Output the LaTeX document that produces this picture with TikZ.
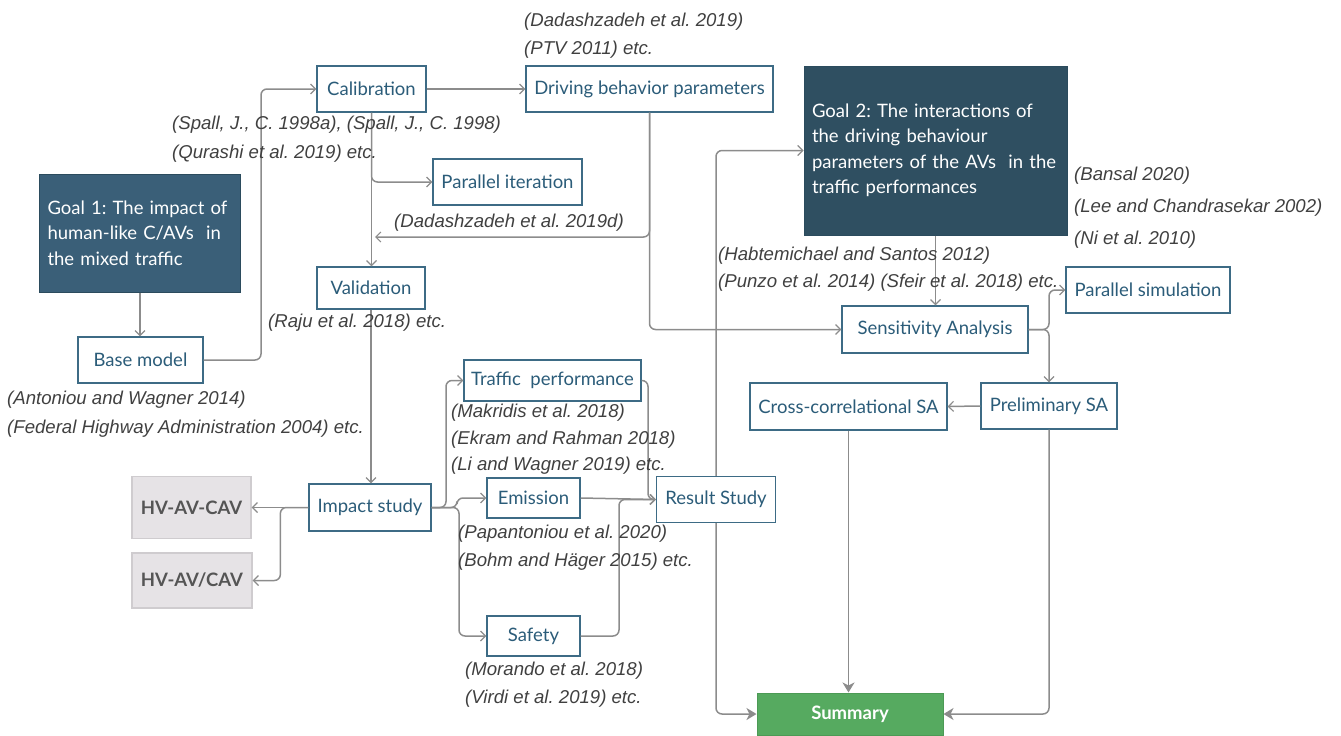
\documentclass[tikz,border=0pt]{standalone}
\usepackage{fontspec}
\setmainfont{Lato}
\newfontfamily\citefont{Liberation Sans}
\usetikzlibrary{arrows.meta}
\frenchspacing
\definecolor{boxline}{HTML}{3D6B85}
\definecolor{boxtext}{HTML}{2B5C79}
\definecolor{goalone}{HTML}{3A5F78}
\definecolor{goaltwo}{HTML}{2F4F61}
\definecolor{sumgreen}{HTML}{56AA60}
\definecolor{sumline}{HTML}{4C9A55}
\definecolor{hvfill}{HTML}{E6E3E6}
\definecolor{hvline}{HTML}{CFCCCF}
\definecolor{hvtext}{HTML}{555555}
\definecolor{conn}{HTML}{8C8C8C}
\definecolor{cite}{HTML}{404040}
\tikzset{
  stepbox/.style={draw=boxline, line width=1.3pt, fill=white, text=boxtext, inner sep=0pt,
    font=\fontsize{18.5}{22}\selectfont},
  goalbox/.style={draw=boxline!70!black, line width=1pt, text=white, align=left, inner xsep=8pt,
    font=\fontsize{18.5}{25.5}\selectfont},
  hvbox/.style={draw=hvline, line width=1.3pt, fill=hvfill, text=hvtext, inner sep=0pt,
    font=\fontsize{18.5}{22}\selectfont\bfseries},
  sumbox/.style={draw=sumline, line width=1pt, fill=sumgreen, text=white, inner sep=0pt,
    font=\fontsize{18.5}{22}\selectfont\bfseries},
  citelbl/.style={anchor=west, inner sep=0pt, text=cite, font=\citefont\itshape\fontsize{18.6}{22}\selectfont},
  arr/.style={draw=conn, line width=1.5pt, rounded corners=6pt, -{Straight Barb[length=5pt,width=10pt,line width=1.2pt]}},
  sarr/.style={draw=conn, line width=1.5pt, rounded corners=6pt, -{Stealth[length=10pt,width=12pt,inset=3pt]}},
}
\begin{document}
\begin{tikzpicture}[x=1pt,y=-1pt]
\useasboundingbox (0,0) rectangle (1341,736);
% boxes
\node[goalbox, fill=goalone, text width=185pt, minimum height=118pt] (g1) at (140,233)
  {Goal 1: The impact of\\human-like C/AVs\ \ in\\the mixed traffic};
\node[stepbox, minimum width=125pt, minimum height=46pt] (base) at (140.5,360) {Base model};
\node[stepbox, minimum width=109pt, minimum height=46pt] (cal) at (371.5,89) {Calibration};
\node[stepbox, minimum width=247pt, minimum height=46pt] (dbp) at (649.5,89) {Driving behavior parameters};
\node[stepbox, minimum width=149pt, minimum height=46pt] (pit) at (507.5,182) {Parallel iteration};
\node[stepbox, minimum width=108pt, minimum height=42pt] (val) at (371,288) {Validation};
\node[goalbox, fill=goaltwo, text width=247pt, minimum height=169pt] (g2) at (935.5,150.5)
  {Goal 2: The interactions of\\the driving behaviour\\parameters of the AVs\ \ in the\\traffic performances};
\node[stepbox, minimum width=186pt, minimum height=47pt] (sa) at (935,329.5) {Sensitivity Analysis};
\node[stepbox, minimum width=164pt, minimum height=46pt] (ps) at (1148,290) {Parallel simulation};
\node[stepbox, minimum width=136pt, minimum height=46pt] (pre) at (1049,406) {Preliminary SA};
\node[stepbox, minimum width=197pt, minimum height=47pt] (cc) at (848.5,406.5) {Cross-correlational SA};
\node[stepbox, minimum width=177pt, minimum height=41pt] (tp) at (552.5,380.5) {Traffic\ \ performance};
\node[stepbox, minimum width=93pt, minimum height=40pt] (em) at (533.5,498) {Emission};
\node[stepbox, minimum width=93pt, minimum height=40pt] (sf) at (533.5,636) {Safety};
\node[stepbox, minimum width=119pt, minimum height=46pt] (rs) at (716,499.5) {Result Study};
\node[stepbox, minimum width=122pt, minimum height=47pt] (imp) at (370,507.5) {Impact study};
\node[hvbox, minimum width=119pt, minimum height=62pt] (hv1) at (191.5,507.5) {HV-AV-CAV};
\node[hvbox, minimum width=120pt, minimum height=55pt] (hv2) at (192,580.5) {HV-AV/CAV};
\node[sumbox, minimum width=186pt, minimum height=42pt] (sum) at (850,714) {Summary};
% bus coordinates
\coordinate (xa) at (261,0);
\coordinate (c1) at (375,237);
\coordinate (xb) at (446,0);
\coordinate (xc) at (457,0);
\coordinate (xd) at (459,0);
\coordinate (xe) at (648,0);
\coordinate (xf) at (619,0);
% connectors
\draw[arr] (g1.south) -- (g1.south |- base.north);
\draw[arr] (base.east) -| (xa |- cal.west) -- (cal.west);
\draw[arr] (cal.east) -- (dbp.west);
\draw[arr] (cal.south) -- (cal.south |- val.north);
\draw[arr] (cal.south) |- (pit.west);
\draw[arr] (dbp.south) |- (c1);
\draw[arr] (dbp.south) |- (sa.west);
\draw[arr] (val.south) -- (val.south |- imp.north);
\draw[arr] (imp.west) -- (hv1.east);
\draw[arr] (imp.west) -- ++(-28,0) |- (hv2.east);
\draw[arr] (imp.east) -| (xb |- tp.west) -- (tp.west);
\draw[arr] (imp.east) -| (xc |- em.west) -- (em.west);
\draw[arr] (imp.east) -| (xd |- sf.west) -- (sf.west);
\draw[arr] (tp.east) -| (xe |- rs.west) -- (rs.west);
\draw[arr] (em.east) -- (rs.west);
\draw[arr] (sf.east) -| (xf |- rs.west) -- (rs.west);
\draw[arr] (rs.north) |- (g2.west);
\draw[sarr] (rs.south) |- (sum.west);
\draw[arr] (g2.south) -- (g2.south |- sa.north);
\draw[arr] (sa.east) -| (pre.north |- ps.west) -- (ps.west);
\draw[arr] (sa.east) -| (pre.north);
\draw[arr] (pre.west) -- (cc.east);
\draw[sarr] (cc.south) -- (cc.south |- sum.north);
\draw[sarr] (pre.south) |- (sum.east);
% citation labels
\node[citelbl] (l1) at (524,22) {(Dadashzadeh et al. 2019)};
\node[citelbl] (l2) at (524,50) {(PTV 2011) etc.};
\node[citelbl] (l3) at (172,125) {(Spall, J., C. 1998a), (Spall, J., C. 1998)};
\node[citelbl] (l4) at (172,154) {(Qurashi et al. 2019) etc.};
\node[citelbl] (l5) at (394,223) {(Dadashzadeh et al. 2019d)};
\node[citelbl] (l6) at (268,323) {(Raju et al. 2018) etc.};
\node[citelbl] (l7) at (7,400) {(Antoniou and Wagner 2014)};
\node[citelbl] (l8) at (7,429) {(Federal Highway Administration 2004) etc.};
\node[citelbl] (l9) at (451,413) {(Makridis et al. 2018)};
\node[citelbl] (l10) at (451,440) {(Ekram and Rahman 2018)};
\node[citelbl] (l11) at (451,466) {(Li and Wagner 2019) etc.};
\node[citelbl] (l12) at (458,534) {(Papantoniou et al. 2020)};
\node[citelbl] (l13) at (458,562) {(Bohm and Häger 2015) etc.};
\node[citelbl] (l14) at (465,671) {(Morando et al. 2018)};
\node[citelbl] (l15) at (465,699) {(Virdi et al. 2019) etc.};
\node[citelbl] (l16) at (718,256) {(Habtemichael and Santos 2012)};
\node[citelbl] (l17) at (718,283) {(Punzo et al. 2014) (Sfeir et al. 2018) etc.};
\node[citelbl] (l18) at (1074,176) {(Bansal 2020)};
\node[citelbl] (l19) at (1074,208) {(Lee and Chandrasekar 2002)};
\node[citelbl] (l20) at (1074,240) {(Ni et al. 2010)};
\end{tikzpicture}
\end{document}
